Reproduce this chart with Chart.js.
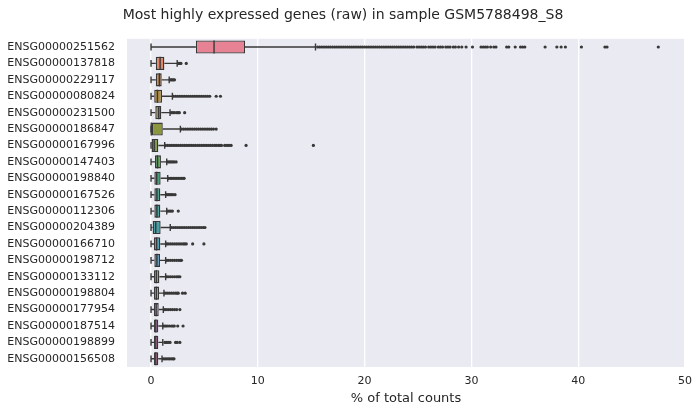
<!DOCTYPE html>
<html>
<head>
<meta charset="utf-8">
<script src="https://cdn.jsdelivr.net/npm/chart.js@4.4.1/dist/chart.umd.min.js"></script>
<style>
  html, body { margin: 0; padding: 0; background: #ffffff; }
  #wrap { width: 700px; height: 415px; }
</style>
</head>
<body>
<div id="wrap"><canvas id="ChartCanvas" width="700" height="415"></canvas></div>
<script>
// Gene names, top to bottom
const genes = [
    'ENSG00000251562', 'ENSG00000137818', 'ENSG00000229117', 'ENSG00000080824',
    'ENSG00000231500', 'ENSG00000186847', 'ENSG00000167996', 'ENSG00000147403',
    'ENSG00000198840', 'ENSG00000167526', 'ENSG00000112306', 'ENSG00000204389',
    'ENSG00000166710', 'ENSG00000198712', 'ENSG00000133112', 'ENSG00000198804',
    'ENSG00000177954', 'ENSG00000187514', 'ENSG00000198899', 'ENSG00000156508'
];

// Box statistics (% of total counts)
const whiskerLow  = [0, 0, 0, 0, 0, 0, 0, 0, 0, 0, 0, 0, 0, 0, 0, 0, 0, 0, 0, 0];
const q1          = [4.2, 0.45, 0.45, 0.3, 0.4, 0.0, 0.05, 0.37, 0.31, 0.31, 0.31, 0.15, 0.28, 0.31, 0.28, 0.28, 0.28, 0.28, 0.28, 0.28];
const median      = [5.9, 0.85, 0.78, 0.6, 0.72, 0.02, 0.3, 0.6, 0.53, 0.55, 0.55, 0.44, 0.52, 0.55, 0.5, 0.5, 0.48, 0.45, 0.45, 0.45];
const q3          = [8.8, 1.25, 1.0, 1.03, 0.96, 1.1, 0.68, 0.93, 0.9, 0.87, 0.87, 0.9, 0.87, 0.84, 0.78, 0.75, 0.72, 0.68, 0.68, 0.68];
const whiskerHigh = [15.4, 2.45, 1.7, 2.0, 1.78, 2.75, 1.28, 1.47, 1.56, 1.37, 1.47, 1.8, 1.37, 1.37, 1.37, 1.21, 1.15, 1.1, 1.1, 1.03];

// Outliers per gene
const outliers = [
    [15.6, 15.8, 16.0, 16.2, 16.4, 16.6, 16.8, 17.0, 17.2, 17.4, 17.6, 17.8, 18.0, 18.2, 18.4, 18.6,
     18.8, 19.0, 19.2, 19.4, 19.6, 19.8, 20.0, 20.2, 20.4, 20.6, 20.8, 21.0, 21.2, 21.4, 21.6, 21.8,
     22.0, 22.2, 22.4, 22.6, 22.8, 23.0, 23.2, 23.4, 23.6, 23.8, 24.0, 24.2, 24.4, 24.6,
     24.9, 25.1, 25.3, 25.5, 25.7, 26.0, 26.2, 26.4, 26.6, 26.9, 27.1, 27.3, 27.6, 27.8, 28.0, 28.3, 28.5, 28.8, 29.1,
     29.5, 30.1, 30.9, 31.1, 31.3, 31.5, 31.8, 32.1, 32.3, 33.3, 33.5, 34.1, 34.6, 34.8, 35.0,
     36.9, 38.0, 38.4, 38.8, 40.3, 42.5, 42.7, 47.5],
    [2.55, 2.7, 2.8, 3.3],
    [1.8, 1.9, 2.0, 2.1, 2.2],
    [2.1, 2.3, 2.5, 2.7, 2.9, 3.1, 3.3, 3.5, 3.7, 3.9, 4.1, 4.3, 4.5, 4.7, 4.9, 5.1, 5.3, 5.5, 6.1, 6.5],
    [1.9, 2.05, 2.2, 2.4, 2.55, 2.65, 3.15],
    [2.85, 3.05, 3.25, 3.45, 3.65, 3.85, 4.05, 4.25, 4.45, 4.65, 4.85, 5.05, 5.25, 5.45, 5.65, 5.85, 6.1],
    [1.35, 1.55, 1.75, 1.95, 2.15, 2.35, 2.55, 2.75, 2.95, 3.15, 3.35, 3.55, 3.75, 3.95, 4.15, 4.35,
     4.55, 4.75, 4.95, 5.15, 5.35, 5.55, 5.75, 5.95, 6.1, 6.3, 6.45, 6.6, 6.9, 7.1, 7.3, 7.5, 8.9, 15.2],
    [1.55, 1.7, 1.85, 2.0, 2.15, 2.35],
    [1.65, 1.8, 1.95, 2.1, 2.25, 2.4, 2.55, 2.7, 2.85, 3.0, 3.1],
    [1.45, 1.6, 1.75, 1.9, 2.05, 2.25],
    [1.55, 1.7, 1.85, 2.0, 2.55],
    [1.9, 2.1, 2.3, 2.5, 2.7, 2.9, 3.1, 3.3, 3.5, 3.7, 3.9, 4.1, 4.3, 4.5, 4.7, 4.9, 5.05],
    [1.45, 1.6, 1.8, 2.0, 2.2, 2.4, 2.6, 2.8, 3.0, 3.15, 3.3, 3.9, 4.95],
    [1.45, 1.6, 1.8, 2.0, 2.2, 2.4, 2.6, 2.75, 2.85],
    [1.45, 1.6, 1.8, 2.0, 2.2, 2.4, 2.55, 2.7],
    [1.3, 1.5, 1.7, 1.9, 2.1, 2.3, 2.45, 2.55, 2.95, 3.2],
    [1.25, 1.4, 1.6, 1.8, 2.0, 2.2, 2.4, 2.7],
    [1.2, 1.35, 1.5, 1.7, 1.9, 2.05, 2.18, 2.5, 3.0],
    [1.3, 1.45, 1.6, 1.78, 2.3, 2.45, 2.7],
    [1.15, 1.3, 1.45, 1.6, 1.75, 1.9, 2.05, 2.15]
];

// x axis ticks
const xTicks = [0, 10, 20, 30, 40, 50];

// husl-like palette, later desaturated like seaborn boxplot
const basePalette = [
    '#f77189', '#f47b53', '#dc8837', '#c69632', '#b19d31', '#97a431', '#79aa31', '#4daf4a',
    '#33b07a', '#34ae91', '#36ada4', '#37abb4', '#38a9c5', '#3ea5e0', '#6d9cf2', '#a48cf4',
    '#c77ff3', '#e06fe0', '#f56bc3', '#f76ea6'
];

function desaturate(hex, prop)
{
    let r = parseInt(hex.slice(1, 3), 16) / 255;
    let g = parseInt(hex.slice(3, 5), 16) / 255;
    let b = parseInt(hex.slice(5, 7), 16) / 255;
    const max = Math.max(r, g, b), min = Math.min(r, g, b);
    const l = (max + min) / 2;
    const c = max - min;
    if (c === 0) return hex;
    const s = c / (1 - Math.abs(2 * l - 1));
    const c2 = s * prop * (1 - Math.abs(2 * l - 1));
    const mid = l - c / 2;
    const mid2 = l - c2 / 2;
    const f = v => Math.round(((v - mid) / c * c2 + mid2) * 255);
    return 'rgb(' + f(r) + ',' + f(g) + ',' + f(b) + ')';
}

const boxColors = basePalette.map(c => desaturate(c, 0.75));
const lineColor = '#383838';

Initialize();

function Initialize()
{
    // Whiskers, caps and medians drawn through the chart scales
    const boxParts = {
        id: 'boxParts',
        beforeDatasetsDraw(chart) {
            const ctx = chart.ctx;
            const xs = chart.scales.x, ys = chart.scales.y;
            ctx.save();
            ctx.strokeStyle = lineColor;
            ctx.lineWidth = 1.4;
            genes.forEach((g, i) => {
                const y = ys.getPixelForValue(i);
                const xl = xs.getPixelForValue(whiskerLow[i]);
                const xq1 = xs.getPixelForValue(q1[i]);
                const xq3 = xs.getPixelForValue(q3[i]);
                const xh = xs.getPixelForValue(whiskerHigh[i]);
                ctx.beginPath();
                ctx.moveTo(xl, y); ctx.lineTo(xq1, y);
                ctx.moveTo(xq3, y); ctx.lineTo(xh, y);
                ctx.moveTo(xl, y - 3.4); ctx.lineTo(xl, y + 3.4);
                ctx.moveTo(xh, y - 3.4); ctx.lineTo(xh, y + 3.4);
                ctx.stroke();
            });
            ctx.restore();
        },
        afterDatasetsDraw(chart) {
            const ctx = chart.ctx;
            const xs = chart.scales.x, ys = chart.scales.y;
            const half = (ys.getPixelForValue(1) - ys.getPixelForValue(0)) * 0.4;
            ctx.save();
            ctx.strokeStyle = lineColor;
            ctx.lineWidth = 1.4;
            genes.forEach((g, i) => {
                const y = ys.getPixelForValue(i);
                const xm = xs.getPixelForValue(median[i]);
                ctx.beginPath();
                ctx.moveTo(xm, y - half); ctx.lineTo(xm, y + half);
                ctx.stroke();
            });
            ctx.restore();
        }
    };

    const outlierPoints = [];
    outliers.forEach((vals, i) => vals.forEach(v => outlierPoints.push({ x: v, y: genes[i] })));

    const ctx = document.getElementById('ChartCanvas').getContext('2d');
    new Chart(ctx, {
        type: 'bar',
        data: {
            labels: genes,
            datasets: [{
                type: 'bar',
                indexAxis: 'y',
                data: genes.map((g, i) => [q1[i], q3[i]]),
                backgroundColor: boxColors,
                borderColor: lineColor,
                borderWidth: 1.4,
                borderSkipped: false,
                barPercentage: 0.8,
                categoryPercentage: 1.0,
                xAxisID: 'x',
                yAxisID: 'y',
                order: 2
            }, {
                type: 'scatter',
                data: outlierPoints,
                pointStyle: 'circle',
                pointRadius: 1.6,
                pointBorderWidth: 0,
                backgroundColor: lineColor,
                borderColor: lineColor,
                xAxisID: 'x',
                yAxisID: 'y',
                order: 1
            }]
        },
        options: {
            indexAxis: 'y',
            responsive: false,
            animation: false,
            layout: { padding: { left: 0, right: 14, top: 0, bottom: 0 } },
            plugins: {
                legend: { display: false },
                tooltip: { enabled: false },
                title: {
                    display: true,
                    text: 'Most highly expressed genes (raw) in sample GSM5788498_S8',
                    color: '#262626',
                    font: { family: 'DejaVu Sans', size: 14, weight: 'normal' },
                    padding: { top: 7, bottom: 15 }
                }
            },
            scales: {
                x: {
                    type: 'linear',
                    position: 'bottom',
                    min: -2.25,
                    max: 50,
                    offset: false,
                    afterBuildTicks: axis => { axis.ticks = xTicks.map(v => ({ value: v })); },
                    afterFit: axis => { axis.height = 48; },
                    grid: { color: '#ffffff', lineWidth: 1.3, drawTicks: false, offset: false },
                    border: { display: false },
                    ticks: {
                        color: '#262626',
                        padding: 8,
                        font: { family: 'DejaVu Sans', size: 11 }
                    },
                    title: {
                        display: true,
                        text: '% of total counts',
                        color: '#262626',
                        font: { family: 'DejaVu Sans', size: 13 },
                        padding: { top: 0, bottom: 9 }
                    }
                },
                y: {
                    type: 'category',
                    position: 'left',
                    labels: genes,
                    offset: true,
                    afterFit: axis => { axis.width = 127; },
                    grid: { display: false, drawTicks: false },
                    border: { display: false },
                    ticks: {
                        color: '#262626',
                        padding: 12,
                        autoSkip: false,
                        font: { family: 'DejaVu Sans', size: 11 }
                    }
                }
            }
        },
        plugins: [{
            id: 'plotBackground',
            beforeDraw(chart) {
                const a = chart.chartArea;
                chart.ctx.save();
                chart.ctx.fillStyle = '#eaeaf2';
                chart.ctx.fillRect(a.left, a.top, a.right - a.left, a.bottom - a.top);
                chart.ctx.restore();
            }
        }, boxParts]
    });
}
</script>
</body>
</html>
